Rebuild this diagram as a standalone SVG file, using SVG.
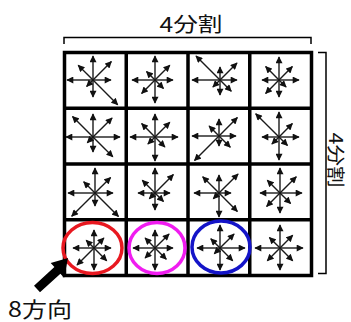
<svg xmlns="http://www.w3.org/2000/svg" width="351" height="322" viewBox="0 0 351 322">
<style>
.bg{fill:#fff}
.grid{fill:none;stroke:#000;stroke-width:3.5}
.a{stroke:#1a1a1a;stroke-width:1.4;marker-end:url(#ah)}
.br{fill:none;stroke:#000;stroke-width:1.5}
.lbl{font-family:"Noto Sans CJK JP","Noto Sans",sans-serif;font-size:20px;fill:#111}
.ring{fill:none;stroke-width:3.5}
</style>
<defs>
<marker id="ah" viewBox="0 0 10 10" refX="9" refY="5" markerWidth="8" markerHeight="7" markerUnits="userSpaceOnUse" orient="auto"><path d="M0,0 L10,5 L0,10 z" fill="#111"/></marker>
</defs>
<rect class="bg" x="0" y="0" width="351" height="322"/>
<g id="grid">
<rect class="grid" x="64.5" y="52.5" width="247" height="223"/>
<path class="grid" d="M126.25,52.5V275.5M188,52.5V275.5M249.75,52.5V275.5M64.5,108.25H311.5M64.5,164H311.5M64.5,219.75H311.5"/>
</g>
<g id="cell-0-0" transform="translate(93,80)">
<line class="a" x1="0" y1="0" x2="0" y2="-24"/><line class="a" x1="0" y1="0" x2="18.4" y2="-18.4"/><line class="a" x1="0" y1="0" x2="18" y2="0"/><line class="a" x1="0" y1="0" x2="24.7" y2="24.7"/><line class="a" x1="0" y1="0" x2="0" y2="17"/><line class="a" x1="0" y1="0" x2="-6.4" y2="6.4"/><line class="a" x1="0" y1="0" x2="-26" y2="0"/><line class="a" x1="0" y1="0" x2="-14.8" y2="-14.8"/>
</g>
<g id="cell-0-1" transform="translate(155,80)">
<line class="a" x1="0" y1="0" x2="0" y2="-24"/><line class="a" x1="0" y1="0" x2="14.8" y2="-14.8"/><line class="a" x1="0" y1="0" x2="18" y2="0"/><line class="a" x1="0" y1="0" x2="8.5" y2="8.5"/><line class="a" x1="0" y1="0" x2="0" y2="23"/><line class="a" x1="0" y1="0" x2="-13.4" y2="13.4"/><line class="a" x1="0" y1="0" x2="-23" y2="0"/><line class="a" x1="0" y1="0" x2="-8.5" y2="-8.5"/>
</g>
<g id="cell-0-2" transform="translate(220,80)">
<line class="a" x1="0" y1="0" x2="0" y2="-13"/><line class="a" x1="0" y1="0" x2="17" y2="-17"/><line class="a" x1="0" y1="0" x2="17" y2="0"/><line class="a" x1="0" y1="0" x2="11.3" y2="11.3"/><line class="a" x1="0" y1="0" x2="0" y2="15"/><line class="a" x1="0" y1="0" x2="-7.1" y2="7.1"/><line class="a" x1="0" y1="0" x2="-28" y2="0"/><line class="a" x1="0" y1="0" x2="-24" y2="-24"/>
</g>
<g id="cell-0-3" transform="translate(279,80)">
<line class="a" x1="0" y1="0" x2="0" y2="-23"/><line class="a" x1="0" y1="0" x2="13.4" y2="-13.4"/><line class="a" x1="0" y1="0" x2="20" y2="0"/><line class="a" x1="0" y1="0" x2="7.1" y2="7.1"/><line class="a" x1="0" y1="0" x2="0" y2="17"/><line class="a" x1="0" y1="0" x2="-13.4" y2="13.4"/><line class="a" x1="0" y1="0" x2="-17" y2="0"/><line class="a" x1="0" y1="0" x2="-13.4" y2="-13.4"/>
</g>
<g id="cell-1-0" transform="translate(93,137)">
<line class="a" x1="0" y1="0" x2="0" y2="-23"/><line class="a" x1="0" y1="0" x2="19.1" y2="-19.1"/><line class="a" x1="0" y1="0" x2="27" y2="0"/><line class="a" x1="0" y1="0" x2="19.8" y2="19.8"/><line class="a" x1="0" y1="0" x2="0" y2="15"/><line class="a" x1="0" y1="0" x2="-5.7" y2="5.7"/><line class="a" x1="0" y1="0" x2="-27" y2="0"/><line class="a" x1="0" y1="0" x2="-20.5" y2="-20.5"/>
</g>
<g id="cell-1-1" transform="translate(155,137)">
<line class="a" x1="0" y1="0" x2="0" y2="-23"/><line class="a" x1="0" y1="0" x2="14.8" y2="-14.8"/><line class="a" x1="0" y1="0" x2="23" y2="0"/><line class="a" x1="0" y1="0" x2="9.9" y2="9.9"/><line class="a" x1="0" y1="0" x2="0" y2="24"/><line class="a" x1="0" y1="0" x2="-7.1" y2="7.1"/><line class="a" x1="0" y1="0" x2="-25" y2="0"/><line class="a" x1="0" y1="0" x2="-13.4" y2="-13.4"/>
</g>
<g id="cell-1-2" transform="translate(219,136)">
<line class="a" x1="0" y1="0" x2="0" y2="-17"/><line class="a" x1="0" y1="0" x2="18.4" y2="-18.4"/><line class="a" x1="0" y1="0" x2="17" y2="0"/><line class="a" x1="0" y1="0" x2="11.3" y2="11.3"/><line class="a" x1="0" y1="0" x2="0" y2="10"/><line class="a" x1="0" y1="0" x2="-24.5" y2="24.5"/><line class="a" x1="0" y1="0" x2="-27" y2="0"/><line class="a" x1="0" y1="0" x2="-9.9" y2="-9.9"/>
</g>
<g id="cell-1-3" transform="translate(279,137)">
<line class="a" x1="0" y1="0" x2="0" y2="-25"/><line class="a" x1="0" y1="0" x2="13.4" y2="-13.4"/><line class="a" x1="0" y1="0" x2="20" y2="0"/><line class="a" x1="0" y1="0" x2="8.5" y2="8.5"/><line class="a" x1="0" y1="0" x2="0" y2="23"/><line class="a" x1="0" y1="0" x2="-7.1" y2="7.1"/><line class="a" x1="0" y1="0" x2="-17" y2="0"/><line class="a" x1="0" y1="0" x2="-23.3" y2="-23.3"/>
</g>
<g id="cell-2-0" transform="translate(95,193)">
<line class="a" x1="0" y1="0" x2="0" y2="-25"/><line class="a" x1="0" y1="0" x2="15.6" y2="-15.6"/><line class="a" x1="0" y1="0" x2="18" y2="0"/><line class="a" x1="0" y1="0" x2="23.5" y2="23.5"/><line class="a" x1="0" y1="0" x2="0" y2="13"/><line class="a" x1="0" y1="0" x2="-23.3" y2="23.3"/><line class="a" x1="0" y1="0" x2="-27" y2="0"/><line class="a" x1="0" y1="0" x2="-11.3" y2="-11.3"/>
</g>
<g id="cell-2-1" transform="translate(155,193)">
<line class="a" x1="0" y1="0" x2="0" y2="-25"/><line class="a" x1="0" y1="0" x2="18.4" y2="-18.4"/><line class="a" x1="0" y1="0" x2="15" y2="0"/><line class="a" x1="0" y1="0" x2="8.5" y2="8.5"/><line class="a" x1="0" y1="0" x2="0" y2="17"/><line class="a" x1="0" y1="0" x2="-5.7" y2="5.7"/><line class="a" x1="0" y1="0" x2="-17" y2="0"/><line class="a" x1="0" y1="0" x2="-12.7" y2="-12.7"/>
</g>
<g id="cell-2-2" transform="translate(219,193)">
<line class="a" x1="0" y1="0" x2="0" y2="-18"/><line class="a" x1="0" y1="0" x2="19.1" y2="-19.1"/><line class="a" x1="0" y1="0" x2="12" y2="0"/><line class="a" x1="0" y1="0" x2="18.4" y2="18.4"/><line class="a" x1="0" y1="0" x2="0" y2="24"/><line class="a" x1="0" y1="0" x2="-5.7" y2="5.7"/><line class="a" x1="0" y1="0" x2="-25" y2="0"/><line class="a" x1="0" y1="0" x2="-16.3" y2="-16.3"/>
</g>
<g id="cell-2-3" transform="translate(280,193)">
<line class="a" x1="0" y1="0" x2="0" y2="-25"/><line class="a" x1="0" y1="0" x2="16.3" y2="-16.3"/><line class="a" x1="0" y1="0" x2="22" y2="0"/><line class="a" x1="0" y1="0" x2="10.6" y2="10.6"/><line class="a" x1="0" y1="0" x2="0" y2="20"/><line class="a" x1="0" y1="0" x2="-13.4" y2="13.4"/><line class="a" x1="0" y1="0" x2="-20" y2="0"/><line class="a" x1="0" y1="0" x2="-12.7" y2="-12.7"/>
</g>
<g id="cell-3-0" transform="translate(94,248)">
<line class="a" x1="0" y1="0" x2="0" y2="-18"/><line class="a" x1="0" y1="0" x2="9.9" y2="-9.9"/><line class="a" x1="0" y1="0" x2="17" y2="0"/><line class="a" x1="0" y1="0" x2="12.7" y2="12.7"/><line class="a" x1="0" y1="0" x2="0" y2="22"/><line class="a" x1="0" y1="0" x2="-17" y2="17"/><line class="a" x1="0" y1="0" x2="-21" y2="0"/><line class="a" x1="0" y1="0" x2="-7.8" y2="-7.8"/>
</g>
<g id="cell-3-1" transform="translate(155,248)">
<line class="a" x1="0" y1="0" x2="0" y2="-18"/><line class="a" x1="0" y1="0" x2="14.1" y2="-14.1"/><line class="a" x1="0" y1="0" x2="18" y2="0"/><line class="a" x1="0" y1="0" x2="11.3" y2="11.3"/><line class="a" x1="0" y1="0" x2="0" y2="22"/><line class="a" x1="0" y1="0" x2="-9.9" y2="9.9"/><line class="a" x1="0" y1="0" x2="-22" y2="0"/><line class="a" x1="0" y1="0" x2="-9.9" y2="-9.9"/>
</g>
<g id="cell-3-2" transform="translate(220,248)">
<line class="a" x1="0" y1="0" x2="0" y2="-23"/><line class="a" x1="0" y1="0" x2="14.1" y2="-14.1"/><line class="a" x1="0" y1="0" x2="25" y2="0"/><line class="a" x1="0" y1="0" x2="12.7" y2="12.7"/><line class="a" x1="0" y1="0" x2="0" y2="22"/><line class="a" x1="0" y1="0" x2="-5.7" y2="5.7"/><line class="a" x1="0" y1="0" x2="-23" y2="0"/><line class="a" x1="0" y1="0" x2="-9.2" y2="-9.2"/>
</g>
<g id="cell-3-3" transform="translate(280,248)">
<line class="a" x1="0" y1="0" x2="0" y2="-23"/><line class="a" x1="0" y1="0" x2="12.7" y2="-12.7"/><line class="a" x1="0" y1="0" x2="23" y2="0"/><line class="a" x1="0" y1="0" x2="12.7" y2="12.7"/><line class="a" x1="0" y1="0" x2="0" y2="22"/><line class="a" x1="0" y1="0" x2="-12.7" y2="12.7"/><line class="a" x1="0" y1="0" x2="-25" y2="0"/><line class="a" x1="0" y1="0" x2="-10.6" y2="-10.6"/>
</g>
<g id="highlights">
<ellipse class="ring" cx="92.5" cy="248" rx="29.5" ry="25.5" stroke="#e81820"/>
<ellipse class="ring" cx="157" cy="248" rx="28" ry="25.5" stroke="#f01cf0"/>
<ellipse class="ring" cx="221" cy="247" rx="29" ry="26" stroke="#1414c8"/>
</g>
<g id="bracket-top">
<path class="br" d="M64,44V37.5H311V44"/>
<text class="lbl" x="159.5" y="32" textLength="63" lengthAdjust="spacingAndGlyphs">4分割</text>
</g>
<g id="bracket-right">
<path class="br" d="M318,52.5H326V273.5H318"/>
<text class="lbl" transform="translate(329,160) rotate(90)" text-anchor="middle" textLength="55" lengthAdjust="spacingAndGlyphs" style="font-size:18.5px">4分割</text>
</g>
<g id="connectors">
<polygon points="68,258 64.1,277.8 60.4,273.7 40,292.3 34,285.7 54.4,267.1 50.7,263" fill="#000"/>
</g>
<g id="label-8dir">
<text class="lbl" x="8" y="317" textLength="64" lengthAdjust="spacingAndGlyphs" style="font-size:21px">8方向</text>
</g>
</svg>
